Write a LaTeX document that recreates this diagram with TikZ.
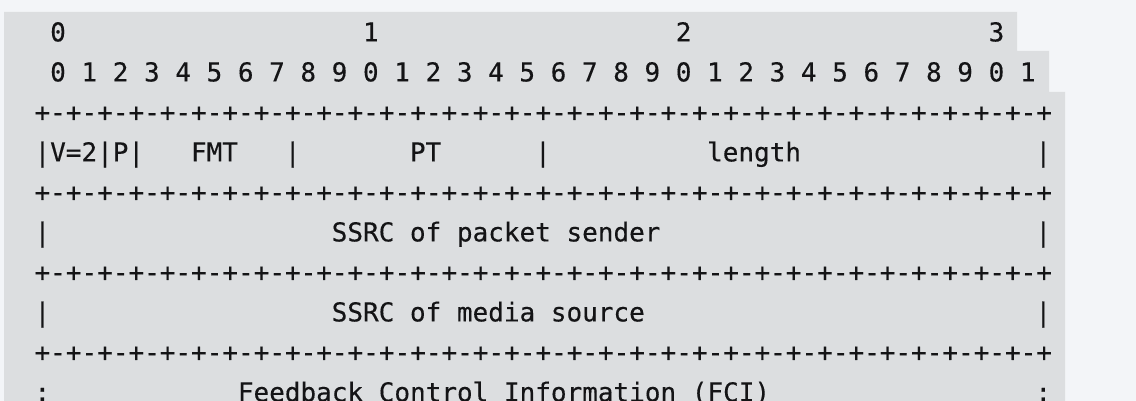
\documentclass[tikz,border=0pt]{standalone}
\usepackage{fontspec}
\setmonofont{DejaVu Sans Mono}
\usepackage{tikz}
\definecolor{pagebg}{HTML}{F3F5F8}
\definecolor{codebg}{HTML}{DCDEE0}
\definecolor{codetext}{HTML}{141416}

\begin{document}
\begin{tikzpicture}[x=7.82pt, y=20pt]
    \newcommand{\sepline}{+-+-+-+-+-+-+-+-+-+-+-+-+-+-+-+-+-+-+-+-+-+-+-+-+-+-+-+-+-+-+-+-+}
    \tikzstyle{cell}=[
      inner sep=0pt,
      anchor=base west,
      text=codetext,
      font=\fontsize{13}{15}\selectfont\ttfamily\addfontfeature{FakeBold=0.3}\frenchspacing,
    ]
    
    \useasboundingbox (0pt,0pt) rectangle (568pt,-200.5pt);
    \fill[pagebg] (0pt,0pt) rectangle (568pt,-200.5pt);
    \fill[codebg] (2pt,-6pt) -- (508.5pt,-6pt) -- (508.5pt,-25.5pt) -- (524.5pt,-25.5pt)
      -- (524.5pt,-46pt) -- (532.5pt,-46pt) -- (532.5pt,-200.5pt) -- (2pt,-200.5pt) -- cycle;
    
    \coordinate (origin) at (17.09pt,-20.7pt);
    
    % bit numbers
    {
      \foreach \t in {0,...,3} {
        \pgfmathtruncatemacro{\c}{20*\t+1}
        \node[cell] (tens\t) at ([shift={(\c,0)}] origin) {\t};
      }
      \foreach \i in {0,...,31} {
        \pgfmathtruncatemacro{\d}{mod(\i,10)}
        \pgfmathtruncatemacro{\c}{2*\i+1}
        \node[cell] (bit\i) at ([shift={(\c,-1)}] origin) {\d};
      }
    }
    
    % separator lines
    {
      \foreach \r in {2,4,6,8} {
        \node[cell] (sep\r) at ([shift={(0,-\r)}] origin) {\sepline};
      }
    }
    
    % first word
    {
      \foreach \c in {0,4,6,16,32,64} {
        \node[cell] (bar3-\c) at ([shift={(\c,-3)}] origin) {|};
      }
      \node[cell] (version) at ([shift={(1,-3)}] origin) {V=2};
      \node[cell] (padding) at ([shift={(5,-3)}] origin) {P};
      \node[cell] (fmt) at ([shift={(10,-3)}] origin) {FMT};
      \node[cell] (pt) at ([shift={(24,-3)}] origin) {PT};
      \node[cell] (length) at ([shift={(43,-3)}] origin) {length};
    }
    
    % ssrc words
    {
      \foreach \r in {5,7} {
        \node[cell] (barl\r) at ([shift={(0,-\r)}] origin) {|};
        \node[cell] (barr\r) at ([shift={(64,-\r)}] origin) {|};
      }
      \node[cell] (sender) at ([shift={(19,-5)}] origin) {SSRC of packet sender};
      \node[cell] (source) at ([shift={(19,-7)}] origin) {SSRC of media source};
    }
    
    % fci
    {
      \node[cell] (colonl) at ([shift={(0,-9)}] origin) {:};
      \node[cell] (colonr) at ([shift={(64,-9)}] origin) {:};
      \node[cell] (fci) at ([shift={(13,-9)}] origin) {Feedback Control Information (FCI)};
    }
  \end{tikzpicture}
\end{document}
